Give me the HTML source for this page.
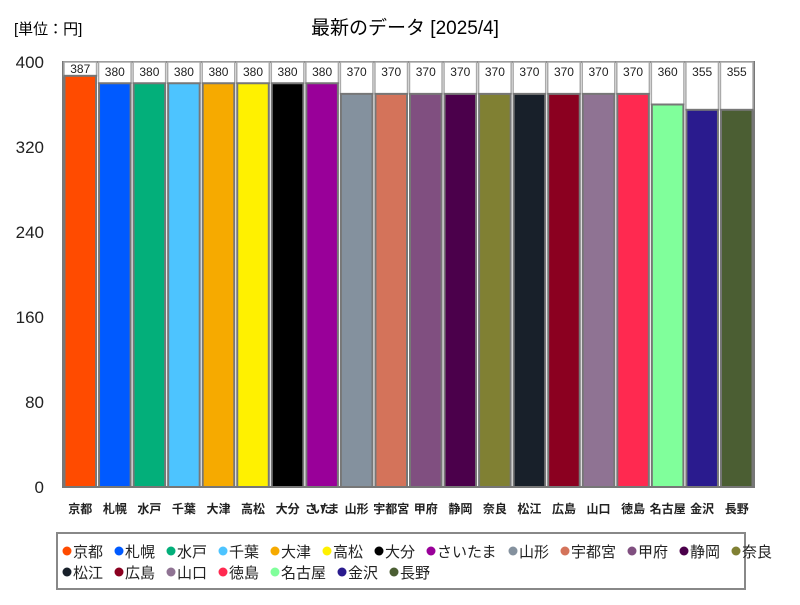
<!DOCTYPE html>
<html><head><meta charset="utf-8"><style>
body{margin:0;background:#fff;font-family:"Liberation Sans","Noto Sans CJK JP",sans-serif}
svg text{font-family:"Liberation Sans","Noto Sans CJK JP",sans-serif}
</style></head><body>
<svg id="c" width="800" height="600">
<text x="14" y="34" font-size="15">[単位：円]</text>
<text x="405" y="34" font-size="19" text-anchor="middle">最新のデータ [2025/4]</text>
<g id="yaxis"></g><g id="bars"></g><g id="xlabels"></g>
<rect x="57" y="533" width="688" height="56" fill="#fff" stroke="#888" stroke-width="2"/>
<g id="legend"></g>
</svg>
<script>
const categories=["京都","札幌","水戸","千葉","大津","高松","大分","さいたま","山形","宇都宮","甲府","静岡","奈良","松江","広島","山口","徳島","名古屋","金沢","長野"];
const values=[387,380,380,380,380,380,380,380,370,370,370,370,370,370,370,370,370,360,355,355];
const colors=["#ff4b00","#005aff","#03af7a","#4dc4ff","#f6aa00","#fff100","#000000","#990099","#84919e","#d4735a","#804f80","#4b004b","#808033","#18202a","#8b0020","#8f7393","#ff2950","#80ff9b","#2a1b8e","#4b5e33"];
const yTicks=[0,80,160,240,320,400];
const X0=63,X1=754,Y0=487,Y1=62,YMAX=400;
const ns="http://www.w3.org/2000/svg";
const slot=(X1-X0)/categories.length;
const y=v=>Y0-(v/YMAX)*(Y0-Y1);
const xs=i=>X0+i*slot;
function mk(t,a,p){const e=document.createElementNS(ns,t);for(const k in a)e.setAttribute(k,a[k]);p.appendChild(e);return e;}
const ya=document.getElementById('yaxis');
yTicks.forEach(t=>{const e=mk('text',{x:44,y:y(t)+6,'font-size':17,'text-anchor':'end',fill:'#222','font-family':'Liberation Serif'},ya);e.textContent=t;

});
const fr=mk('rect',{x:X0,y:Y1,width:X1-X0,height:Y0-Y1,fill:'#fff',stroke:'#777','stroke-width':2},ya);


const bg=document.getElementById('bars'),xl=document.getElementById('xlabels');
values.forEach((v,i)=>{
 const lb=mk('rect',{x:xs(i)+1,y:Y1,width:slot-2,height:y(v)-Y1,fill:'#fff',stroke:'#aaa','stroke-width':1.5},bg);
 
 
 const r=mk('rect',{x:xs(i)+1.5,y:y(v),width:slot-3,height:Y0-y(v),fill:colors[i],stroke:'#777','stroke-width':2},bg);
 
 
 const tv=mk('text',{x:xs(i)+slot/2,y:Math.min(y(v)-3,Y1+14),'font-size':12,'text-anchor':'middle',fill:'#222'},bg);tv.textContent=v;
 
 
 const tx=mk('text',{x:xs(i)+slot/2,y:513,'font-size':12,'font-weight':'bold','text-anchor':'middle',fill:'#222'},xl);tx.textContent=categories[i];
 if(categories[i].length>3)tx.setAttribute('textLength',slot);
 
 
});
const lg=document.getElementById('legend');
const perRow=13;let cx=62,cy=551;
categories.forEach((c,i)=>{
 if(i===perRow){cx=62;cy=572;}
 const g=mk('g',{},lg);
 
 
 mk('circle',{cx:cx+5,cy:cy,r:4.5,fill:colors[i]},g);
 const t=mk('text',{x:cx+11,y:cy+6,'font-size':15,fill:'#222'},g);t.textContent=c;
 cx+=11+c.length*15+11;
});
</script>
</body></html>
